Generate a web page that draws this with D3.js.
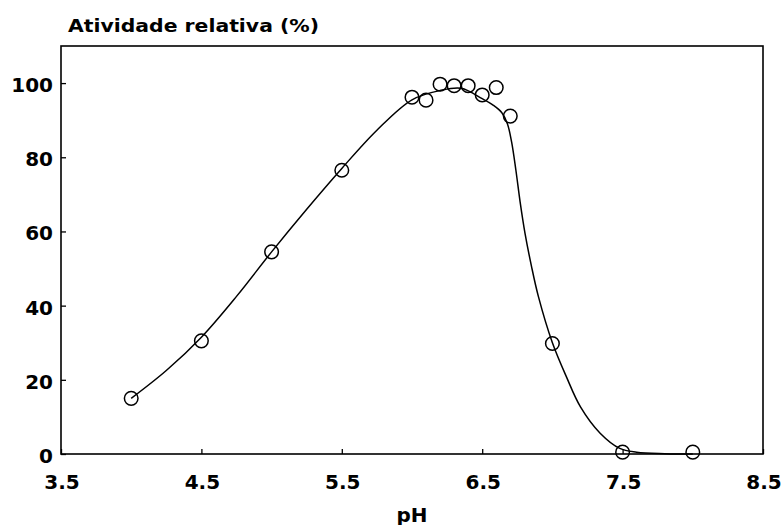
<!DOCTYPE html>
<html><head><meta charset="utf-8">
<script src="https://cdn.jsdelivr.net/npm/d3@7"></script>
<style>body{margin:0;background:#fff}</style>
</head><body>
<svg id="c" width="783" height="525"></svg>
<script>
const pH = [4.0, 4.5, 5.0, 5.5, 6.0, 6.1, 6.2, 6.3, 6.4, 6.5, 6.6, 6.7, 7.0, 7.5, 8.0];
const activity = [15, 30.5, 54.5, 76.5, 96.2, 95.4, 99.7, 99.3, 99.3, 96.8, 98.8, 91.1, 29.8, 0.5, 0.5];
const fitPH = [4.0, 4.25, 4.5, 4.75, 5.0, 5.25, 5.5, 5.75, 6.0, 6.2, 6.35, 6.5, 6.58, 6.64, 6.68, 6.71, 6.74, 6.77, 6.805, 6.85, 6.9, 7.0, 7.1, 7.2, 7.34, 7.48, 7.6, 7.8, 8.0];
const fitAct = [15, 22.5, 31.5, 42.5, 54.5, 66, 77, 87.3, 95.5, 98, 98.6, 95.8, 94, 92, 89, 84, 76.5, 68, 59.5, 50.8, 42.5, 30, 20.8, 12.7, 5.6, 1.5, 0.5, 0.1, 0];
const xTicks = [3.5, 4.5, 5.5, 6.5, 7.5, 8.5];
const yTicks = [0, 20, 40, 60, 80, 100];

const svg = d3.select("#c");
const L = 61, R = 763, T = 46, B = 454;
const x = d3.scaleLinear().domain([3.5, 8.5]).range([L, R]);
const y = d3.scaleLinear().domain([0, 110]).range([B, T]);
const font = "'DejaVu Sans', sans-serif";

// frame
svg.append("rect").attr("x", L).attr("y", T).attr("width", R - L).attr("height", B - T)
  .attr("fill", "none").attr("stroke", "#000").attr("stroke-width", 1.6);

// axes with inward ticks
const yAxis = svg.append("g").attr("transform", `translate(${L},0)`)
  .call(d3.axisRight(y).tickValues(yTicks).tickSize(5).tickFormat(""));
yAxis.select(".domain").remove();
yAxis.selectAll("line").attr("stroke", "#000").attr("stroke-width", 1.3);
const xAxis = svg.append("g").attr("transform", `translate(0,${B})`)
  .call(d3.axisTop(x).tickValues(xTicks).tickSize(5).tickFormat(""));
xAxis.select(".domain").remove();
xAxis.selectAll("line").attr("stroke", "#000").attr("stroke-width", 1.3);

// tick labels
svg.append("g").selectAll("text").data(yTicks).join("text")
  .attr("x", 53).attr("y", d => y(d) + 9)
  .attr("text-anchor", "end").attr("font-family", font).attr("font-weight", "bold")
  .attr("font-size", 20).text(d => d);
svg.append("g").selectAll("text").data(xTicks).join("text")
  .attr("x", d => x(d) + 1).attr("y", 489)
  .attr("text-anchor", "middle").attr("font-family", font).attr("font-weight", "bold")
  .attr("font-size", 20).text(d => d.toFixed(1));

// titles
svg.append("text").attr("x", 68).attr("y", 32).attr("font-family", font)
  .attr("font-weight", "bold").attr("font-size", 18.5)
  .attr("textLength", 251).attr("lengthAdjust", "spacingAndGlyphs")
  .text("Atividade relativa (%)");
svg.append("text").attr("x", (L + R) / 2).attr("y", 522).attr("text-anchor", "middle")
  .attr("font-family", font).attr("font-weight", "bold").attr("font-size", 19)
  .attr("textLength", 31).attr("lengthAdjust", "spacingAndGlyphs")
  .text("pH");

// fitted curve
const fit = fitPH.map((p, i) => [p, fitAct[i]]);
svg.append("path").datum(fit)
  .attr("d", d3.line().x(d => x(d[0])).y(d => y(d[1])).curve(d3.curveCatmullRom.alpha(0.5)))
  .attr("fill", "none").attr("stroke", "#000").attr("stroke-width", 1.5);

// points
svg.append("g").selectAll("circle").data(pH.map((p, i) => [p, activity[i]])).join("circle")
  .attr("cx", d => x(d[0])).attr("cy", d => y(d[1])).attr("r", 6.8)
  .attr("fill", "none").attr("stroke", "#000").attr("stroke-width", 1.5);
</script>
</body></html>
